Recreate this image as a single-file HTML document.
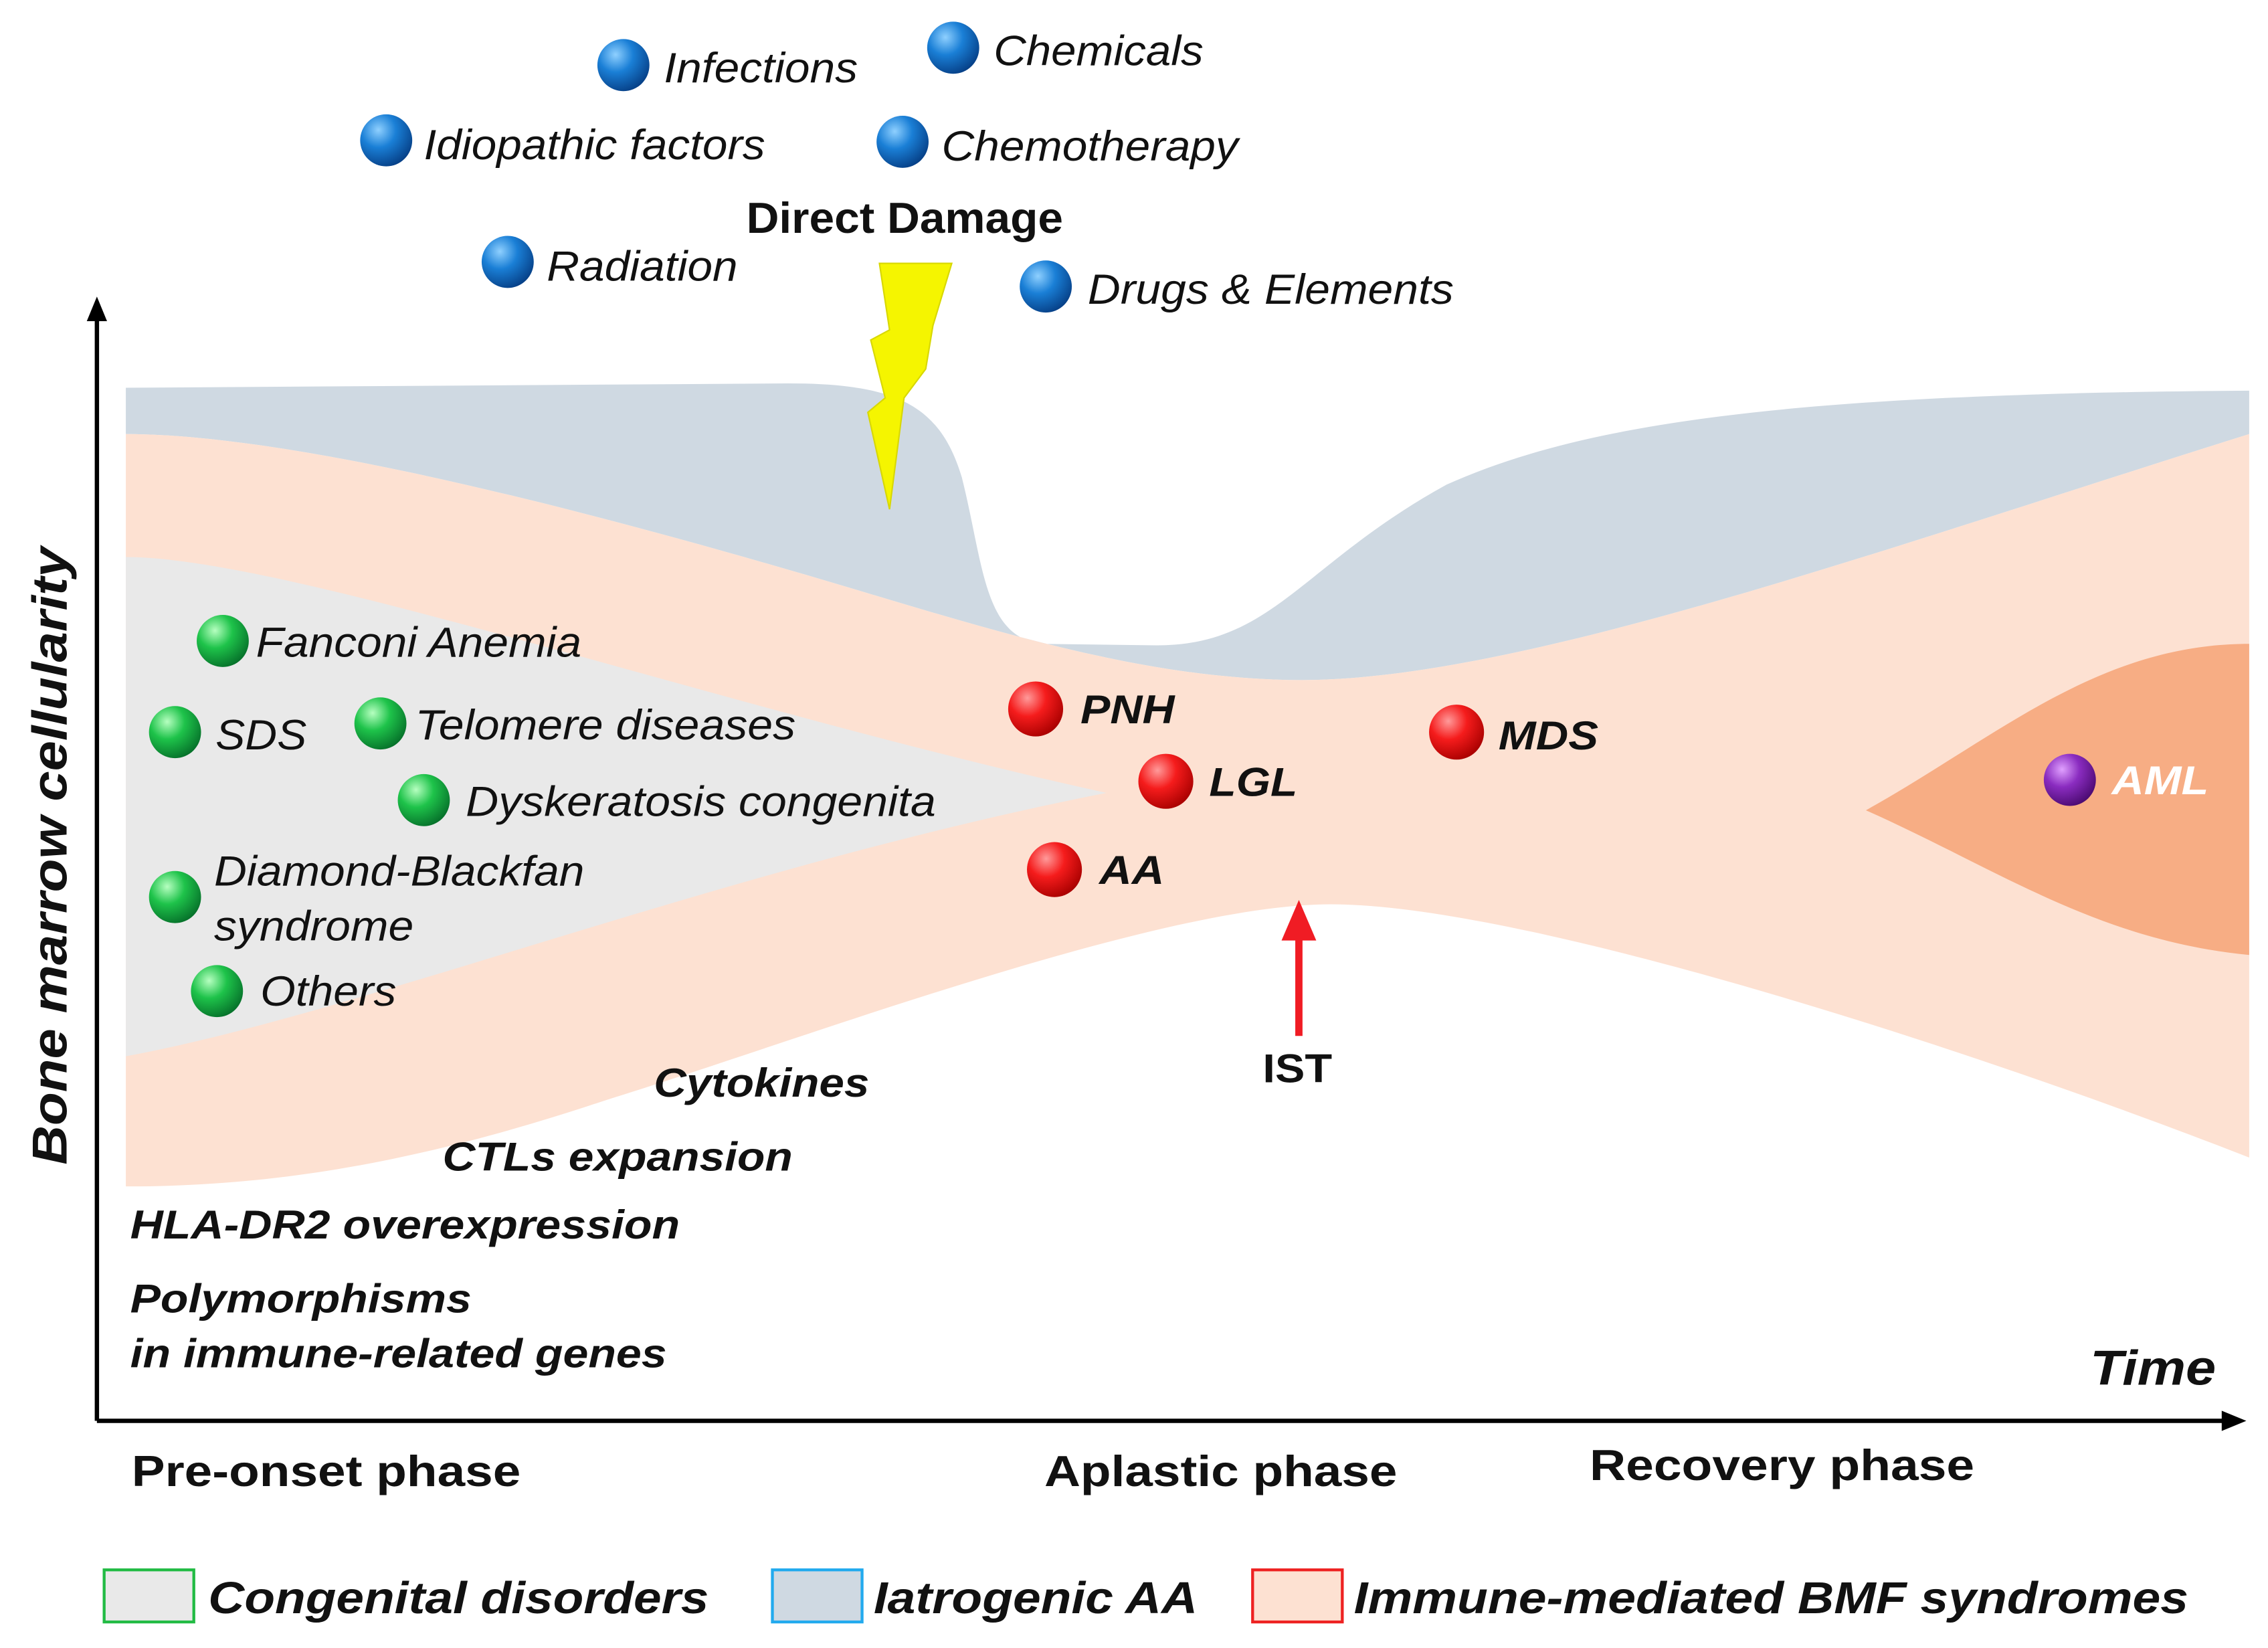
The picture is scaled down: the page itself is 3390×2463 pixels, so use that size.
<!DOCTYPE html>
<html><head><meta charset="utf-8"><style>
html,body{margin:0;padding:0;background:#fff;}
svg{display:block;}
text{font-family:"Liberation Sans",sans-serif;}
.it{font-style:italic;font-size:29px;fill:#111;}
.bi{font-style:italic;font-weight:bold;font-size:28px;fill:#111;}
.b{font-weight:bold;font-size:30px;fill:#111;}
</style></head><body>
<svg width="3390" height="2463" viewBox="0 0 1568 1139" preserveAspectRatio="none" xmlns="http://www.w3.org/2000/svg">
<defs>
<radialGradient id="gb" cx="0.35" cy="0.3" r="0.75"><stop offset="0" stop-color="#8fd0ff"/><stop offset="0.45" stop-color="#1a7fd6"/><stop offset="1" stop-color="#063f86"/></radialGradient>
<radialGradient id="gg" cx="0.35" cy="0.3" r="0.75"><stop offset="0" stop-color="#b6ffc0"/><stop offset="0.45" stop-color="#1ec34a"/><stop offset="1" stop-color="#06702a"/></radialGradient>
<radialGradient id="gr" cx="0.35" cy="0.3" r="0.75"><stop offset="0" stop-color="#ff9a9a"/><stop offset="0.45" stop-color="#f51c1c"/><stop offset="1" stop-color="#a80000"/></radialGradient>
<radialGradient id="gp" cx="0.35" cy="0.3" r="0.75"><stop offset="0" stop-color="#e0a0ff"/><stop offset="0.45" stop-color="#8a2cc0"/><stop offset="1" stop-color="#4a0a70"/></radialGradient>
</defs>
<path d="M87,268 L545,265 C620,265 650,280 665,330 C680,390 680,440 720,445 L800,446 C880,446 900,390 1000,335 C1100,290 1250,272 1555,270 L1555,300 C1300,380 1050,470 900,470 C800,470 700,440 600,410 C400,350 200,300 87,300 Z" fill="#cfd9e2"/>
<path d="M87,300 C200,300 400,350 600,410 C700,440 800,470 900,470 C1050,470 1300,380 1555,300 L1555,800 C1350,720 1050,625 920,625 C800,625 550,720 420,760 C300,800 200,820 87,820 Z" fill="#fde1d2"/>
<path d="M87,385 C200,385 500,490 765,548 C500,600 250,700 87,730 Z" fill="#e9e9e9"/>
<path d="M1290,560 C1380,510 1450,445 1555,445 L1555,660 C1450,650 1380,600 1290,560 Z" fill="#f7ad84"/>
<polygon points="608,182 658,182 645,225 640,255 625,275 615,352 600,285 612,275 602,235 615,228" fill="#f5f500" stroke="#d8d800" stroke-width="1"/>
<line x1="67" y1="982" x2="67" y2="218" stroke="#000" stroke-width="3"/>
<polygon points="67,205 60,222 74,222" fill="#000"/>
<line x1="67" y1="982" x2="1538" y2="982" stroke="#000" stroke-width="3"/>
<polygon points="1553,982 1536,975 1536,989" fill="#000"/>
<line x1="898" y1="716" x2="898" y2="648" stroke="#f01c24" stroke-width="5"/>
<polygon points="898,622 886,650 910,650" fill="#f01c24"/>
<circle cx="431" cy="45" r="18" fill="url(#gb)"/><text class="it" x="459" y="57" textLength="134" lengthAdjust="spacingAndGlyphs">Infections</text>
<circle cx="659" cy="33" r="18" fill="url(#gb)"/><text class="it" x="687" y="45" textLength="145" lengthAdjust="spacingAndGlyphs">Chemicals</text>
<circle cx="267" cy="97" r="18" fill="url(#gb)"/><text class="it" x="293" y="110" textLength="236" lengthAdjust="spacingAndGlyphs">Idiopathic factors</text>
<circle cx="624" cy="98" r="18" fill="url(#gb)"/><text class="it" x="651" y="111" textLength="205" lengthAdjust="spacingAndGlyphs">Chemotherapy</text>
<circle cx="351" cy="181" r="18" fill="url(#gb)"/><text class="it" x="378" y="194" textLength="132" lengthAdjust="spacingAndGlyphs">Radiation</text>
<circle cx="723" cy="198" r="18" fill="url(#gb)"/><text class="it" x="752" y="210" textLength="253" lengthAdjust="spacingAndGlyphs">Drugs &amp; Elements</text>
<text class="b" x="516" y="161" textLength="219" lengthAdjust="spacingAndGlyphs">Direct Damage</text>
<circle cx="154" cy="443" r="18" fill="url(#gg)"/><text class="it" x="177" y="454" textLength="225" lengthAdjust="spacingAndGlyphs">Fanconi Anemia</text>
<circle cx="121" cy="506" r="18" fill="url(#gg)"/><text class="it" x="149" y="518" textLength="63" lengthAdjust="spacingAndGlyphs">SDS</text>
<circle cx="263" cy="500" r="18" fill="url(#gg)"/><text class="it" x="287" y="511" textLength="263" lengthAdjust="spacingAndGlyphs">Telomere diseases</text>
<circle cx="293" cy="553" r="18" fill="url(#gg)"/><text class="it" x="322" y="564" textLength="325" lengthAdjust="spacingAndGlyphs">Dyskeratosis congenita</text>
<circle cx="121" cy="620" r="18" fill="url(#gg)"/><text class="it" x="148" y="612" textLength="256" lengthAdjust="spacingAndGlyphs">Diamond-Blackfan</text><text class="it" x="148" y="650" textLength="138" lengthAdjust="spacingAndGlyphs">syndrome</text>
<circle cx="150" cy="685" r="18" fill="url(#gg)"/><text class="it" x="180" y="695" textLength="94" lengthAdjust="spacingAndGlyphs">Others</text>
<circle cx="716" cy="490" r="19" fill="url(#gr)"/><text class="bi" x="747" y="500" textLength="65" lengthAdjust="spacingAndGlyphs">PNH</text>
<circle cx="806" cy="540" r="19" fill="url(#gr)"/><text class="bi" x="836" y="550" textLength="61" lengthAdjust="spacingAndGlyphs">LGL</text>
<circle cx="729" cy="601" r="19" fill="url(#gr)"/><text class="bi" x="760" y="611" textLength="45" lengthAdjust="spacingAndGlyphs">AA</text>
<circle cx="1007" cy="506" r="19" fill="url(#gr)"/><text class="bi" x="1036" y="518" textLength="69" lengthAdjust="spacingAndGlyphs">MDS</text>
<circle cx="1431" cy="539" r="18" fill="url(#gp)"/><text class="bi" x="1460" y="549" style="fill:#fff" textLength="67" lengthAdjust="spacingAndGlyphs">AML</text>
<text class="b" x="873" y="748" style="font-size:28px" textLength="48" lengthAdjust="spacingAndGlyphs">IST</text>
<text class="bi" x="452" y="758" textLength="149" lengthAdjust="spacingAndGlyphs">Cytokines</text>
<text class="bi" x="306" y="809" textLength="242" lengthAdjust="spacingAndGlyphs">CTLs expansion</text>
<text class="bi" x="90" y="856" textLength="380" lengthAdjust="spacingAndGlyphs">HLA-DR2 overexpression</text>
<text class="bi" x="90" y="907" textLength="236" lengthAdjust="spacingAndGlyphs">Polymorphisms</text>
<text class="bi" x="90" y="945" textLength="371" lengthAdjust="spacingAndGlyphs">in immune-related genes</text>
<text class="bi" x="1445" y="957" style="font-size:34px" textLength="87" lengthAdjust="spacingAndGlyphs">Time</text>
<text class="bi" x="46" y="805" transform="rotate(-90 46 805)" style="font-size:34px" textLength="427" lengthAdjust="spacingAndGlyphs">Bone marrow cellularity</text>
<text class="b" x="91" y="1027" textLength="269" lengthAdjust="spacingAndGlyphs">Pre-onset phase</text>
<text class="b" x="722" y="1027" textLength="244" lengthAdjust="spacingAndGlyphs">Aplastic phase</text>
<text class="b" x="1099" y="1023" textLength="266" lengthAdjust="spacingAndGlyphs">Recovery phase</text>
<rect x="72" y="1085" width="62" height="36" fill="#e9e9e9" stroke="#22bb44" stroke-width="2"/>
<text class="bi" x="144" y="1115" style="font-size:31px" textLength="346" lengthAdjust="spacingAndGlyphs">Congenital disorders</text>
<rect x="534" y="1085" width="62" height="36" fill="#cfd9e2" stroke="#22aaee" stroke-width="2"/>
<text class="bi" x="604" y="1115" style="font-size:31px" textLength="224" lengthAdjust="spacingAndGlyphs">Iatrogenic AA</text>
<rect x="866" y="1085" width="62" height="36" fill="#fde1d2" stroke="#ee2222" stroke-width="2"/>
<text class="bi" x="936" y="1115" style="font-size:31px" textLength="577" lengthAdjust="spacingAndGlyphs">Immune-mediated BMF syndromes</text>
</svg>
</body></html>
